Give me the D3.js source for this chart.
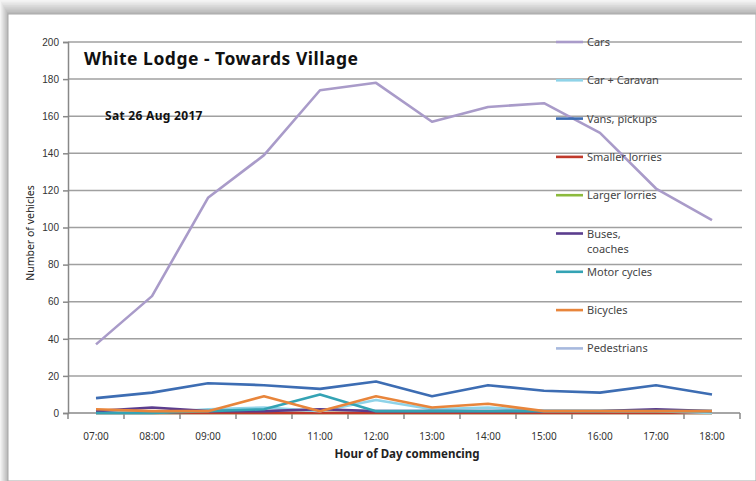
<!DOCTYPE html>
<html>
<head>
<meta charset="utf-8">
<script src="https://cdn.jsdelivr.net/npm/d3@7"></script>
<style>
  body { margin: 0; background: #fff; }
  svg { display: block; font-family: 'Noto Sans', sans-serif; }
</style>
</head>
<body>
<svg id="chart" width="756" height="481"></svg>
<script>
const hours = ['07:00', '08:00', '09:00', '10:00', '11:00', '12:00', '13:00', '14:00', '15:00', '16:00', '17:00', '18:00'];
const cars = [37, 63, 116, 139, 174, 178, 157, 165, 167, 151, 121, 104];
const carCaravan = [0, 0, 2, 3, 1, 7, 2, 3, 1, 1, 1, 0];
const vans = [8, 11, 16, 15, 13, 17, 9, 15, 12, 11, 15, 10];
const smallLorries = [0, 0, 0, 0, 0, 0, 0, 0, 0, 0, 0, 0];
const largeLorries = [0, 0, 0, 0, 0, 0, 0, 0, 0, 0, 0, 0];
const buses = [1, 3, 1, 1, 2, 1, 1, 1, 1, 1, 2, 1];
const motorCycles = [0, 0, 1, 2, 10, 1, 1, 1, 1, 1, 1, 1];
const bicycles = [2, 1, 1, 9, 1, 9, 3, 5, 1, 1, 1, 1];
const pedestrians = [0, 0, 0, 0, 0, 0, 0, 0, 0, 0, 0, 0];
const yTicks = [0, 20, 40, 60, 80, 100, 120, 140, 160, 180, 200];

const series = [
  { name: ['Cars'], values: cars, color: '#a99bc9' },
  { name: ['Car + Caravan'], values: carCaravan, color: '#8fd3e8' },
  { name: ['Vans, pickups'], values: vans, color: '#3d6db3' },
  { name: ['Smaller lorries'], values: smallLorries, color: '#c0392b' },
  { name: ['Larger lorries'], values: largeLorries, color: '#8cba3d' },
  { name: ['Buses,', 'coaches'], values: buses, color: '#5b3d8e' },
  { name: ['Motor cycles'], values: motorCycles, color: '#34a3b4' },
  { name: ['Bicycles'], values: bicycles, color: '#e8853b' },
  { name: ['Pedestrians'], values: pedestrians, color: '#a7b9de' }
];

const svg = d3.select('#chart');

// page shadow behind the chart
const shadow = svg.append('g');
const shade = d3.interpolateRgb('#f4f4f4', '#b8b8b8');
for (let i = 0; i < 8; i++) {
  shadow.append('rect')
    .attr('x', i).attr('y', i * 1.7)
    .attr('width', 756).attr('height', 481)
    .attr('fill', shade(i / 7));
}
svg.append('rect')
  .attr('x', 8).attr('y', 14)
  .attr('width', 748).attr('height', 467)
  .attr('fill', '#fff')
  .attr('stroke', '#a8a8a8')
  .attr('stroke-width', 1);

const margin = { left: 68, right: 740, top: 42, bottom: 413 };

const x = d3.scaleBand().domain(hours).range([margin.left, margin.right]);
const y = d3.scaleLinear().domain([0, 200]).range([margin.bottom, margin.top]);

// gridlines
svg.append('g')
  .selectAll('line')
  .data(yTicks.slice(1))
  .join('line')
  .attr('x1', margin.left).attr('x2', margin.right + 2)
  .attr('y1', d => y(d)).attr('y2', d => y(d))
  .attr('stroke', '#a0a0a0')
  .attr('stroke-width', 1.5);

// y axis
const yAxis = svg.append('g')
  .attr('transform', `translate(${margin.left},0)`)
  .call(d3.axisLeft(y).tickValues(yTicks).tickSize(5).tickPadding(4));
yAxis.select('.domain').attr('stroke', '#888').attr('stroke-width', 1.5);
yAxis.selectAll('.tick line').attr('stroke', '#888').attr('stroke-width', 1.5);
yAxis.selectAll('text').attr('font-size', 10).attr('fill', '#333');

// x axis with ticks between categories
const xAxis = svg.append('g')
  .attr('transform', `translate(0,${margin.bottom})`);
xAxis.append('line')
  .attr('x1', margin.left).attr('x2', margin.right)
  .attr('stroke', '#888').attr('stroke-width', 1.5);
xAxis.selectAll('.tk')
  .data(hours.concat(['end']))
  .join('line')
  .attr('class', 'tk')
  .attr('x1', (d, i) => margin.left + i * x.step())
  .attr('x2', (d, i) => margin.left + i * x.step())
  .attr('y1', 0).attr('y2', 6)
  .attr('stroke', '#888').attr('stroke-width', 1.5);
xAxis.selectAll('text')
  .data(hours)
  .join('text')
  .attr('x', d => x(d) + x.bandwidth() / 2)
  .attr('y', 27)
  .attr('text-anchor', 'middle')
  .attr('font-size', 10)
  .attr('fill', '#333')
  .text(d => d);

// axis titles
svg.append('text')
  .attr('transform', `translate(34,233) rotate(-90)`)
  .attr('text-anchor', 'middle')
  .attr('font-size', 10.5)
  .attr('fill', '#222')
  .text('Number of vehicles');

svg.append('text')
  .attr('x', 407).attr('y', 458)
  .attr('text-anchor', 'middle')
  .attr('font-size', 11.5)
  .attr('font-weight', 'bold')
  .attr('fill', '#222')
  .text('Hour of Day commencing');

// lines (draw small series last so they sit on top)
const line = d3.line()
  .x((d, i) => x(hours[i]) + x.bandwidth() / 2)
  .y(d => y(d));

const drawOrder = [0, 2, 8, 4, 3, 1, 5, 6, 7];
svg.append('g')
  .selectAll('path')
  .data(drawOrder.map(i => series[i]))
  .join('path')
  .attr('d', d => line(d.values))
  .attr('fill', 'none')
  .attr('stroke', d => d.color)
  .attr('stroke-width', 2.6)
  .attr('stroke-linejoin', 'round');

// title and subtitle
svg.append('text')
  .attr('x', 84).attr('y', 65)
  .attr('font-size', 17.5)
  .attr('font-weight', 'bold')
  .attr('letter-spacing', 0.5)
  .attr('fill', '#111')
  .text('White Lodge - Towards Village');

svg.append('text')
  .attr('x', 105).attr('y', 120)
  .attr('font-size', 12)
  .attr('font-weight', 'bold')
  .attr('letter-spacing', 0.3)
  .attr('fill', '#111')
  .text('Sat 26 Aug 2017');

// legend
const legend = svg.append('g')
  .selectAll('g')
  .data(series)
  .join('g')
  .attr('transform', (d, i) => `translate(556,${42 + i * 38.3})`);

legend.append('line')
  .attr('x1', 0).attr('x2', 27)
  .attr('stroke', d => d.color)
  .attr('stroke-width', 2.6);

legend.append('text')
  .attr('font-size', 11)
  .attr('fill', '#444')
  .selectAll('tspan')
  .data(d => d.name)
  .join('tspan')
  .attr('x', 31)
  .attr('y', (d, i) => 4 + i * 15)
  .text(d => d);
</script>
</body>
</html>
